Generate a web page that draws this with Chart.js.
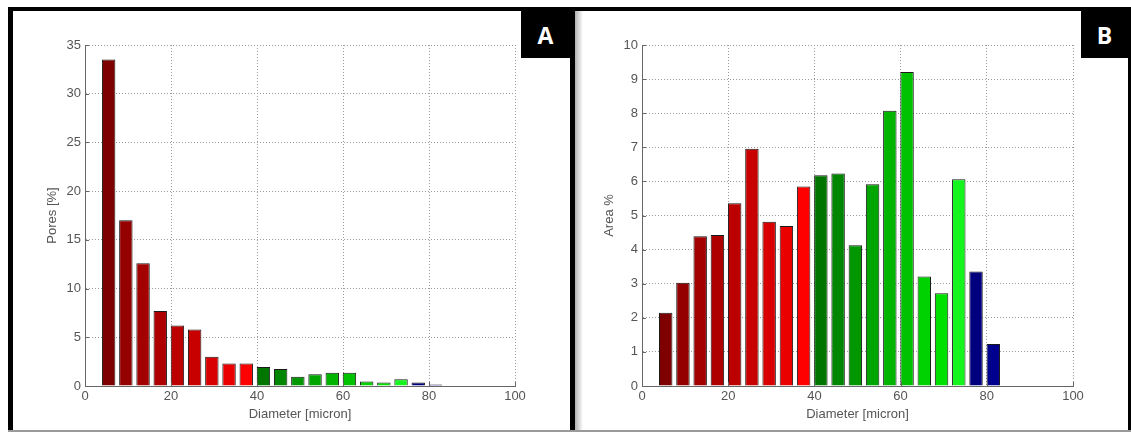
<!DOCTYPE html>
<html>
<head>
<meta charset="utf-8">
<script src="https://cdn.jsdelivr.net/npm/chart.js@4.4.1/dist/chart.umd.min.js"></script>
<style>
  body { margin: 0; background: #fff; width: 1131px; height: 432px; overflow: hidden; position: relative; }
  .frame { position: absolute; background: #000; }
  .tag { position: absolute; background: #000; color: #fff; font: bold 23px "Open Sans", "Liberation Sans", sans-serif;
         display: flex; align-items: center; justify-content: center; }
  canvas { position: absolute; }
</style>
</head>
<body>
<canvas id="chartA" width="557" height="419" style="left:13px;top:11px"></canvas>
<canvas id="chartB" width="553" height="419" style="left:575px;top:11px"></canvas>

<div class="frame" style="left:8px;top:7px;width:1123px;height:4px"></div>
<div class="frame" style="left:8px;top:7px;width:5px;height:425px"></div>
<div class="frame" style="left:570px;top:7px;width:5px;height:425px"></div>
<div class="frame" style="left:1128px;top:7px;width:3px;height:425px"></div>
<div style="position:absolute;left:8px;top:430px;width:1123px;height:2px;background:#9a9a9a"></div>
<div style="position:absolute;left:575px;top:11px;width:8px;height:419px;background:linear-gradient(to right,#b0b0b0,rgba(255,255,255,0))"></div>
<div class="tag" style="left:521px;top:11px;width:49px;height:47px">A</div>
<div class="tag" style="left:1081px;top:11px;width:47px;height:47px">B</div>

<script>
// bin centres (micron)
const diameters = [5.5, 9.5, 13.5, 17.5, 21.5, 25.5, 29.5, 33.5, 37.5, 41.5,
                   45.5, 49.5, 53.5, 57.5, 61.5, 65.5, 69.5, 73.5, 77.5, 81.5];

// panel A: pores [%]
const poresPct = [33.5, 17.0, 12.6, 7.7, 6.2, 5.8, 3.0, 2.3, 2.3, 1.95,
                  1.75, 0.95, 1.2, 1.35, 1.35, 0.45, 0.35, 0.7, 0.35, 0.15];

// panel B: area %
const areaPct = [2.15, 3.03, 4.39, 4.43, 5.36, 6.96, 4.82, 4.69, 5.85, 6.18,
                 6.23, 4.13, 5.92, 8.07, 9.21, 3.21, 2.72, 6.06, 3.36, 1.23];

const xMin = 0, xMax = 100, xStep = 20;
const yMaxA = 35, yStepA = 5;
const yMaxB = 10, yStepB = 1;

const barColors = [
  "#7f0000", "#940000", "#a30000", "#af0000", "#bc0000", "#c90000", "#d80000", "#eb0000", "#ff0000",
  "#007600", "#008600", "#009700", "#00a600", "#00b400", "#00c200", "#00d100", "#00e100", "#14f51e",
  "#00007f", "#00008f"
];

const tickColor = "#555";
const axisFont = { family: "'Liberation Sans', Arial, sans-serif", size: 13 };

// MATLAB style ticks pointing into the plot
const innerTicks = {
  id: "innerTicks",
  afterDraw(chart) {
    const ctx = chart.ctx;
    const area = chart.chartArea;
    const xs = chart.scales.x, ys = chart.scales.y;
    ctx.save();
    ctx.strokeStyle = "#666";
    ctx.lineWidth = 1;
    ctx.beginPath();
    xs.ticks.forEach(t => {
      const px = Math.round(xs.getPixelForValue(t.value)) + 0.5;
      ctx.moveTo(px, area.bottom);
      ctx.lineTo(px, area.bottom - 4);
    });
    ys.ticks.forEach(t => {
      const py = Math.round(ys.getPixelForValue(t.value)) + 0.5;
      ctx.moveTo(area.left, py);
      ctx.lineTo(area.left + 4, py);
    });
    ctx.stroke();
    ctx.restore();
  }
};

function makeChart(id, values, yMax, yStep, yTitle, plotLeft, plotRight, canvasW) {
  const ctx = document.getElementById(id).getContext("2d");
  return new Chart(ctx, {
    type: "bar",
    data: {
      datasets: [{
        data: diameters.map((d, i) => ({ x: d, y: values[i] })),
        backgroundColor: barColors,
        borderColor: "#1a1a1a",
        borderWidth: 1,
        barPercentage: 0.78,
        categoryPercentage: 1
      }]
    },
    options: {
      responsive: false,
      devicePixelRatio: 1,
      animation: false,
      layout: { padding: { top: 34, right: canvasW - plotRight, left: 0, bottom: 0 } },
      plugins: { legend: { display: false }, tooltip: { enabled: false } },
      scales: {
        x: {
          type: "linear",
          offset: false,
          min: xMin, max: xMax,
          ticks: { stepSize: xStep, color: tickColor, font: axisFont, padding: 3, maxRotation: 0 },
          grid: { color: "#9a9a9a", drawTicks: false, offset: false },
          border: { color: "#666", width: 1, dash: [1, 2] },
          title: { display: true, text: "Diameter [micron]", color: tickColor, font: axisFont, padding: { top: 0, bottom: 8 } },
          afterFit: s => { s.height = 44; }
        },
        y: {
          min: 0, max: yMax,
          ticks: { stepSize: yStep, color: tickColor, font: axisFont, padding: 4 },
          grid: { color: "#9a9a9a", drawTicks: false },
          border: { color: "#666", width: 1, dash: [1, 2] },
          title: { display: true, text: yTitle, color: tickColor, font: axisFont, padding: { top: plotLeft - 40, bottom: 0 } },
          afterFit: s => { s.width = plotLeft; }
        }
      }
    },
    plugins: [innerTicks]
  });
}

makeChart("chartA", poresPct, yMaxA, yStepA, "Pores [%]", 72, 502, 557);
makeChart("chartB", areaPct, yMaxB, yStepB, "Area %", 67, 498, 553);
</script>
</body>
</html>
